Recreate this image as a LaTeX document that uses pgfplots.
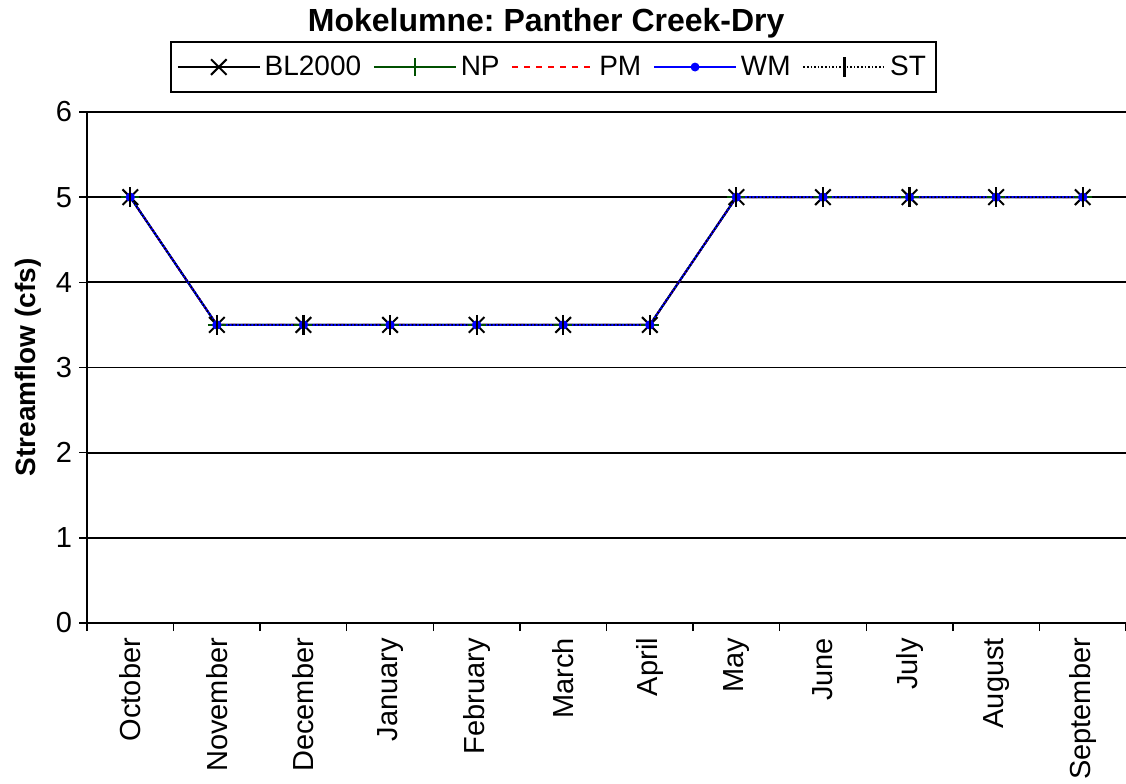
\documentclass[border=0pt]{standalone}
\usepackage{fontspec}
\setmainfont{Liberation Sans}
\usepackage{pgfplots}
\pgfplotsset{compat=1.18}
\definecolor{npgreen}{RGB}{0,80,0}
\frenchspacing
\begin{document}
\begin{tikzpicture}
\begin{axis}[
  at={(43.5pt,80pt)}, anchor=south west,
  scale only axis, width=519.5pt, height=255.5pt,
  xmin=-0.5, xmax=11.5, ymin=0, ymax=6,
  axis x line=bottom, axis y line=left,
  axis line style={-, line width=0.9pt},
  xtick={-0.5,0.5,...,11.5},
  x tick label as interval,
  xticklabels={October,November,December,January,February,March,April,May,June,July,August,September},
  xticklabel style={rotate=90, anchor=east, font=\fontsize{14.5}{16}\selectfont},
  ytick={0,1,...,6},
  yticklabel style={font=\fontsize{14.5}{16}\selectfont},
  /pgf/number format/assume math mode=true,
  tick align=outside, major tick length=4pt,
  tick style={black, line width=0.7pt},
  ymajorgrids, grid style={black, line width=0.9pt},
  ylabel={\bfseries Streamflow (cfs)},
  ylabel style={font=\fontsize{14}{16}\selectfont, at={(axis description cs:-0.057,0.5)}, anchor=center},
  title={\bfseries Mokelumne: Panther Creek-Dry},
  title style={font=\fontsize{16}{18}\selectfont, at={(axis description cs:0.442,1.15)}, anchor=center},
  legend columns=5,
  legend style={at={(axis description cs:0.449,1.088)}, anchor=center, draw=black, line width=0.9pt,
    font=\fontsize{14}{16}\selectfont, inner xsep=3pt, inner ysep=5pt,
    /tikz/every odd column/.append style={column sep=0pt},
    /tikz/every even column/.append style={column sep=4pt}},
  legend image post style={line width=0.8pt},
  legend image code/.code={\draw[mark repeat=2,mark phase=2] plot coordinates {(0pt,0pt) (20.5pt,0pt) (41pt,0pt)};},
]
\addplot[black, line width=1pt, mark=x, mark size=5.5pt, mark options={solid, line width=1pt}] coordinates {(0,5) (1,3.5) (2,3.5) (3,3.5) (4,3.5) (5,3.5) (6,3.5) (7,5) (8,5) (9,5) (10,5) (11,5)};
\addlegendentry{BL2000}
\addplot[npgreen, line width=1pt, mark=+, mark size=4.5pt, mark options={solid, line width=0.9pt}] coordinates {(0,5) (1,3.5) (2,3.5) (3,3.5) (4,3.5) (5,3.5) (6,3.5) (7,5) (8,5) (9,5) (10,5) (11,5)};
\addlegendentry{NP}
\addplot[red, line width=1pt, dashed, no marks] coordinates {(0,5) (1,3.5) (2,3.5) (3,3.5) (4,3.5) (5,3.5) (6,3.5) (7,5) (8,5) (9,5) (10,5) (11,5)};
\addlegendentry{PM}
\addplot[blue, line width=1pt, mark=*, mark size=1.8pt, mark options={solid}] coordinates {(0,5) (1,3.5) (2,3.5) (3,3.5) (4,3.5) (5,3.5) (6,3.5) (7,5) (8,5) (9,5) (10,5) (11,5)};
\addlegendentry{WM}
\addplot[black, line width=0.8pt, densely dotted, mark=|, mark size=5pt, mark options={solid, line width=1.1pt}] coordinates {(0,5) (1,3.5) (2,3.5) (3,3.5) (4,3.5) (5,3.5) (6,3.5) (7,5) (8,5) (9,5) (10,5) (11,5)};
\addlegendentry{ST}
\end{axis}
\pgfresetboundingbox
\path[use as bounding box] (0,0) rectangle (563pt,391.5pt);
\end{tikzpicture}
\end{document}
